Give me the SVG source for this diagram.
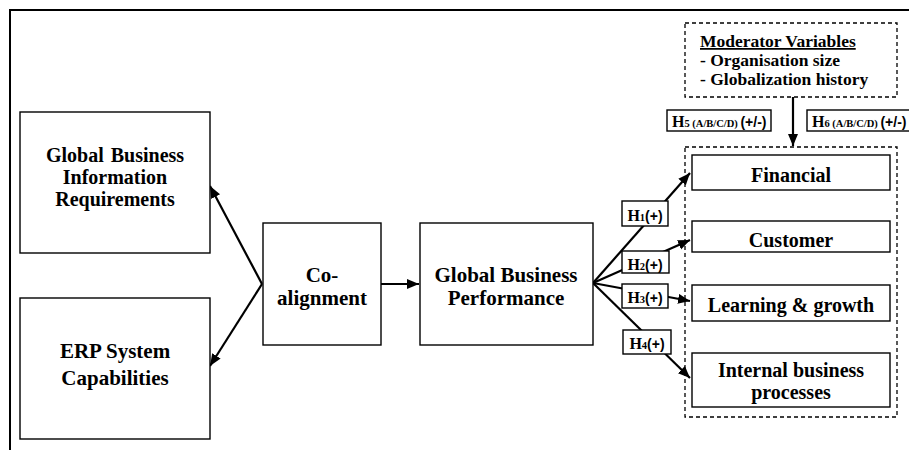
<svg xmlns="http://www.w3.org/2000/svg" width="909" height="450" viewBox="0 0 909 450">
<style>
.box{fill:#fff;stroke:#000;stroke-width:1.4}
.dash{fill:none;stroke:#000;stroke-width:1.3;stroke-dasharray:4 3}
.t{font-family:"Liberation Serif","Times New Roman",serif;font-weight:bold;font-size:21px;fill:#000;text-anchor:middle}
.t2{font-family:"Liberation Serif","Times New Roman",serif;font-weight:bold;font-size:20px;fill:#000;text-anchor:middle}
.m{font-family:"Liberation Serif","Times New Roman",serif;font-weight:bold;font-size:17.5px;fill:#000}
.h{font-family:"Liberation Serif","Times New Roman",serif;font-weight:bold;font-size:16px;fill:#000}
.hs{font-size:10.5px}
.ha{font-family:"Liberation Sans",Arial,sans-serif;font-weight:bold;font-size:14px}
.c{fill:none;stroke:#000;stroke-width:2.2;marker-end:url(#ah)}
</style>
<defs>
<marker id="ah" markerUnits="userSpaceOnUse" markerWidth="14" markerHeight="12" refX="12" refY="5" orient="auto">
<path d="M0,0 L12,5 L0,10 Z" fill="#000"/>
</marker>
</defs>
<path d="M10,450 V10 H909" fill="none" stroke="#000" stroke-width="2"/>

<g id="connectors">
<path class="c" d="M262,284 L210,186"/>
<path class="c" d="M262,284 L210,366"/>
<path class="c" d="M381,284 L419,284"/>
<path class="c" d="M593,283 L690,173"/>
<path class="c" d="M593,283 L690,240"/>
<path class="c" d="M593,283 L690,301"/>
<path class="c" d="M593,283 L690,378"/>
<path class="c" d="M793,97 L793,146"/>
</g>

<g id="gbir">
<rect class="box" x="20" y="112" width="190" height="141"/>
<text class="t" x="115" y="162" style="font-size:20px;word-spacing:2px">Global Business</text>
<text class="t" x="115" y="184" style="font-size:20px">Information</text>
<text class="t" x="115" y="206" style="font-size:20px">Requirements</text>
</g>
<g id="erp">
<rect class="box" x="20" y="298" width="190" height="141"/>
<text class="t" x="115" y="358">ERP System</text>
<text class="t" x="115" y="385">Capabilities</text>
</g>
<g id="coalign">
<rect class="box" x="263" y="223" width="118" height="122"/>
<text class="t" x="322" y="282">Co-</text>
<text class="t" x="322" y="305">alignment</text>
</g>
<g id="gbp">
<rect class="box" x="420" y="223" width="173" height="122"/>
<text class="t" x="506" y="282">Global Business</text>
<text class="t" x="506" y="305">Performance</text>
</g>

<g id="moderator">
<rect class="dash" x="685" y="23" width="212" height="74"/>
<text class="m" x="700" y="47" text-decoration="underline">Moderator  Variables</text>
<text class="m" x="700" y="66">- Organisation size</text>
<text class="m" x="700" y="85">- Globalization  history</text>
</g>

<g id="h5">
<rect class="box" x="667" y="110" width="104" height="21"/>
<text class="h" x="672" y="127">H<tspan class="hs">5 (A/B/C/D) </tspan><tspan class="ha">(+/-)</tspan></text>
</g>
<g id="h6">
<rect class="box" x="807" y="110" width="110" height="21"/>
<text class="h" x="812" y="127">H<tspan class="hs">6 (A/B/C/D) </tspan><tspan class="ha">(+/-)</tspan></text>
</g>

<g id="outcomes">
<rect class="dash" x="685" y="147" width="212" height="270"/>
</g>
<g id="financial">
<rect class="box" x="692" y="155" width="198" height="35"/>
<text class="t2" x="791" y="182">Financial</text>
</g>
<g id="customer">
<rect class="box" x="692" y="221" width="198" height="31"/>
<text class="t2" x="791" y="247">Customer</text>
</g>
<g id="learning">
<rect class="box" x="692" y="285" width="198" height="36"/>
<text class="t2" x="791" y="312">Learning &amp; growth</text>
</g>
<g id="internal">
<rect class="box" x="692" y="353" width="198" height="54"/>
<text class="t2" x="791" y="377">Internal business</text>
<text class="t2" x="791" y="399">processes</text>
</g>

<g id="h1">
<rect class="box" x="622" y="201" width="46" height="25"/>
<text class="h" x="645" y="221" text-anchor="middle">H<tspan class="hs">1</tspan><tspan class="ha">(+)</tspan></text>
</g>
<g id="h2">
<rect class="box" x="622" y="251" width="47" height="22"/>
<text class="h" x="645" y="270" text-anchor="middle">H<tspan class="hs">2</tspan><tspan class="ha">(+)</tspan></text>
</g>
<g id="h3">
<rect class="box" x="622" y="284" width="46" height="24"/>
<text class="h" x="645" y="303" text-anchor="middle">H<tspan class="hs">3</tspan><tspan class="ha">(+)</tspan></text>
</g>
<g id="h4">
<rect class="box" x="623" y="330" width="48" height="24"/>
<text class="h" x="647" y="349" text-anchor="middle">H<tspan class="hs">4</tspan><tspan class="ha">(+)</tspan></text>
</g>
</svg>
